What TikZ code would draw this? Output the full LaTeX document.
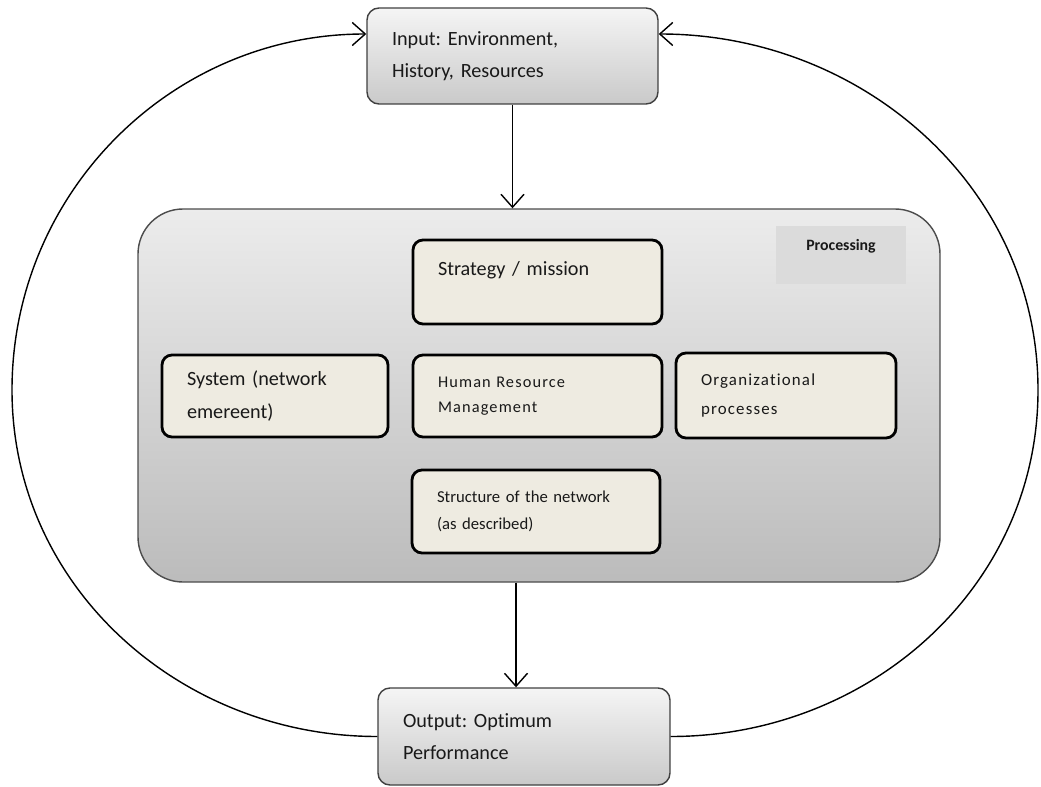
\documentclass[tikz,border=0pt]{standalone}
\usepackage{fontspec}
\setmainfont{Carlito}[Ligatures=CommonOff]
\newfontfamily\widefont[LetterSpace=7, Ligatures=CommonOff]{Carlito}
\frenchspacing
\usetikzlibrary{calc, positioning, arrows.meta}

\begin{document}
\begin{tikzpicture}[
			io/.style={rounded corners=2.4mm, draw=black!75, line width=0.8pt, top color=gray!8, bottom color=gray!42, align=left, inner xsep=5mm, font=\fontsize{11.5}{18.5}\selectfont},
			procbox/.style={rounded corners=9mm, draw=black!70, line width=0.8pt, top color=gray!15, bottom color=gray!53},
			inbox/.style={rounded corners=2mm, draw=black, line width=1.6pt, fill={rgb,255:red,238;green,235;blue,225}, align=left, inner xsep=5mm, font=\fontsize{11.5}{18.5}\selectfont},
			small/.style={font=\widefont\fontsize{9.3}{14.5}\selectfont},
			every node/.style={text=black!90},
			>={Straight Barb[length=2.6mm, width=4.6mm]},
			line width=0.8pt,
			]
			\useasboundingbox (0,0) rectangle (20.82,15.72);
			
			% Ein- und Ausgang
			\node[io, minimum width=5.82cm, minimum height=1.92cm, text width=4.82cm] (Input) at (10.25,14.60) {Input: Environment,\\History, Resources};
			\node[io, minimum width=5.84cm, minimum height=1.94cm, text width=4.84cm] (Output) at (10.48,0.99) {Output: Optimum\\Performance};
			
			% Verarbeitung
			\node[procbox, minimum width=16.04cm, minimum height=7.46cm] (Proc) at (10.78,7.81) {};
			\node[fill=gray!28, minimum width=2.6cm, minimum height=1.16cm, text depth=0.4cm, font=\bfseries\fontsize{9}{11}\selectfont] (ProcLabel) at (16.82,10.62) {Processing};
			\node[inbox, minimum width=4.98cm, minimum height=1.68cm, text width=3.98cm, text depth=0.55cm] (Strategy) at (10.75,10.08) {Strategy / mission};
			\node[inbox, minimum width=4.52cm, minimum height=1.64cm, text width=3.52cm] (System) at (5.50,7.80) {System (network\\emereent)};
			\node[inbox, small, minimum width=4.98cm, minimum height=1.64cm, text width=3.98cm] (HRM) at (10.75,7.80) {Human Resource\\Management};
			\node[inbox, font=\widefont\fontsize{9.6}{16.5}\selectfont, minimum width=4.40cm, minimum height=1.70cm, text width=3.40cm, inner xsep=4.8mm] (Org) at (15.72,7.81) {Organizational\\processes};
			\node[inbox, font=\fontsize{9.5}{15.5}\selectfont, minimum width=4.96cm, minimum height=1.66cm, text width=3.96cm] (Structure) at (10.72,5.49) {Structure of the network\\(as described)};
			
			% Kreislauf
			\coordinate (LoopL) at (0.24,7.92);
			\coordinate (LoopR) at (20.76,7.92);
			\draw[->] (Input.south) -- (Input.south |- Proc.north);
			\draw[->] ($(Proc.south -| Output.north)+(-0.16,0)$) -- ($(Output.north)+(-0.16,0)$);
			\draw[->] (Output.west) to[out=180, in=-90] (LoopL) to[out=90, in=180] ($(Input.west)+(0,0.44)$);
			\draw[->] (Output.east) to[out=0, in=-90] (LoopR) to[out=90, in=0] ($(Input.east)+(0,0.44)$);
			
		\end{tikzpicture}
\end{document}
